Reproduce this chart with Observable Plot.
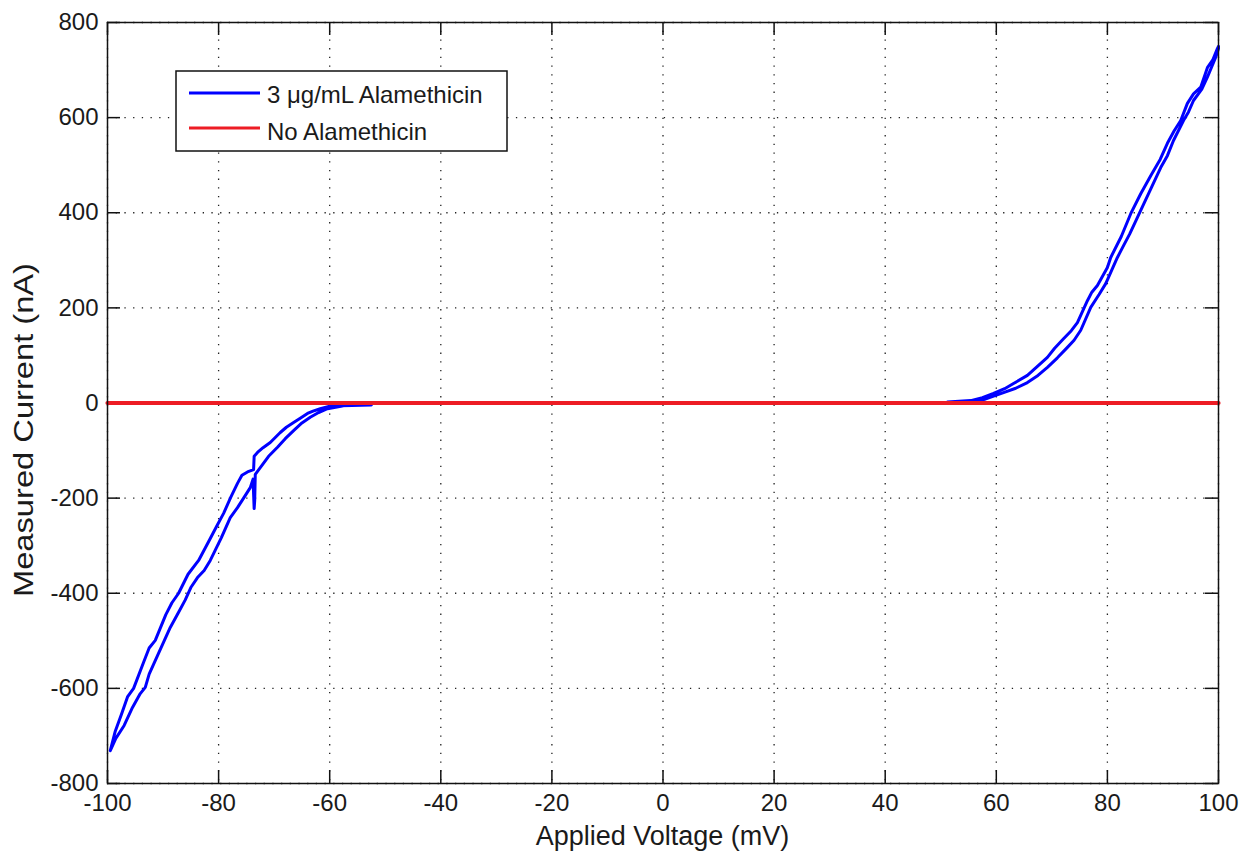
<!DOCTYPE html>
<html>
<head>
<meta charset="utf-8">
<script src="https://cdn.jsdelivr.net/npm/d3@7"></script>
<script src="https://cdn.jsdelivr.net/npm/@observablehq/plot@0.6"></script>
<style>
  html, body { margin: 0; padding: 0; background: #fff; }
  #chart { position: relative; width: 1242px; height: 852px; }
</style>
</head>
<body>
<div id="chart"></div>
<script>
// ---- data ----
const xTicks = [-100, -80, -60, -40, -20, 0, 20, 40, 60, 80, 100];
const yTicks = [-800, -600, -400, -200, 0, 200, 400, 600, 800];

const xLabel = "Applied Voltage (mV)";
const yLabel = "Measured Current (nA)";
const seriesNames = ["3 \u03bcg/mL Alamethicin", "No Alamethicin"];
const seriesColors = ["#0000ff", "#ed1c24"];

// negative branch, outer sweep (towards -100 mV)
const negOuterV = [-52.5, -56, -58, -60.0, -61.7, -63, -64.0, -65.3, -66.5, -67.8, -68.9, -70.7, -72, -73.0, -73.6, -73.7, -74.8, -75.8, -76.6, -77.8, -79.1, -80.3, -81.5, -83.6, -85.5, -87.2, -88.4, -89.5, -91.4, -92.5, -93.5, -95.3, -96.4, -97.5, -98.6, -99.5];
const negOuterI = [-4, -5, -6, -7, -12, -17, -22, -32, -41, -51, -62, -83, -94, -104, -112, -140, -145, -152, -169, -198, -232, -258, -285, -331, -360, -400, -420, -445, -499, -515, -545, -600, -618, -655, -690, -731];
// negative branch, inner sweep (back towards 0 mV)
const negInnerV = [-99.5, -98.5, -97, -95.5, -94.1, -93.2, -92.5, -91, -89.8, -88.7, -87.2, -86, -85, -83.8, -82.6, -81.5, -79.5, -77.9, -76.6, -75.5, -74.3, -73.8, -73.6, -73.5, -73.4, -72.5, -71, -69.4, -68, -66.5, -65, -63.5, -62, -60.4, -57, -53];
const negInnerI = [-731, -705, -678, -640, -611, -598, -570, -531, -500, -472, -440, -414, -388, -367, -352, -331, -283, -241, -220, -200, -178, -160, -222, -205, -150, -136, -112, -93, -75, -58, -42, -30, -20, -12, -5, -3];
// positive branch, rising sweep
const posUpV = [51, 55, 58, 61.3, 63.5, 65.6, 67.5, 69.2, 71, 72.8, 74, 75.2, 77.0, 78.5, 79.7, 80.8, 81.8, 83, 84, 86.0, 88, 89.6, 90.8, 91.9, 93.7, 94.6, 95.5, 97, 98.0, 99.5, 100];
const posUpI = [1, 2, 8, 22, 31, 43, 58, 75, 95, 117, 132, 153, 201, 228, 251, 280, 306, 333, 355, 405, 455, 495, 520, 552, 594, 612, 636, 660, 685, 727, 745];
// positive branch, falling sweep
const posDownV = [100, 99.8, 99, 98.0, 96.8, 95.5, 94.4, 93.2, 92, 90.8, 89.5, 87.8, 86, 84.2, 82.5, 80.6, 80.0, 78.2, 77.2, 76.4, 74.6, 73.5, 72.1, 70.5, 69.2, 67.5, 65.6, 63.1, 61.5, 59.5, 57.5, 55.4, 51.2];
const posDownI = [750, 745, 722, 705, 664, 650, 630, 594, 572, 546, 512, 478, 440, 398, 350, 306, 285, 247, 233, 215, 169, 152, 135, 115, 96, 78, 58, 41, 30, 20, 11, 5, 2];
// control (no alamethicin): flat at zero
const noAlaV = [-100, 100];
const noAlaI = [0, 0];

// ---- build tables ----
const toRows = (vs, is, branch) => vs.map((v, k) => ({v, i: is[k], branch}));
const alaRows = [
  ...toRows(negOuterV, negOuterI, "neg"),
  ...toRows(negInnerV, negInnerI, "neg"),
  ...toRows(posUpV, posUpI, "pos"),
  ...toRows(posDownV, posDownI, "pos")
];
const noAlaRows = toRows(noAlaV, noAlaI, "ctrl");

const W = 1242, H = 852;
const mL = 107, mR = 24, mT = 22, mB = 69;
const innerW = W - mL - mR, innerH = H - mT - mB;
const tickLen = 13;
const font = "'Liberation Sans', Arial, Helvetica, sans-serif";
const fmt = d => String(d);

const plot = Plot.plot({
  width: W, height: H,
  marginLeft: mL, marginRight: mR, marginTop: mT, marginBottom: mB,
  style: {fontSize: "24px", fontFamily: font, color: "#1a1a1a", background: "#fff"},
  x: {domain: [-100, 100], label: null},
  y: {domain: [-800, 800], label: null},
  marks: [
    // dotted grid
    Plot.ruleX(xTicks, {stroke: "#222", strokeWidth: 1.3, strokeDasharray: "1.3,7.4"}),
    Plot.ruleY(yTicks, {stroke: "#222", strokeWidth: 1.3, strokeDasharray: "1.3,7.4"}),
    // inward ticks on all four sides
    Plot.ruleX(xTicks, {insetTop: innerH - tickLen, stroke: "#111", strokeWidth: 1.5}),
    Plot.ruleX(xTicks, {insetBottom: innerH - tickLen, stroke: "#111", strokeWidth: 1.5}),
    Plot.ruleY(yTicks, {insetRight: innerW - tickLen, stroke: "#111", strokeWidth: 1.5}),
    Plot.ruleY(yTicks, {insetLeft: innerW - tickLen, stroke: "#111", strokeWidth: 1.5}),
    // data
    Plot.line(alaRows, {x: "v", y: "i", z: "branch", stroke: seriesColors[0], strokeWidth: 3}),
    Plot.line(noAlaRows, {x: "v", y: "i", stroke: seriesColors[1], strokeWidth: 4.2}),
    Plot.frame({stroke: "#111", strokeWidth: 1.5}),
    Plot.axisX(xTicks, {tickSize: 0, tickPadding: 10, fill: "#1a1a1a", tickFormat: fmt}),
    Plot.axisY(yTicks, {tickSize: 0, tickPadding: 9, fill: "#1a1a1a", tickFormat: fmt})
  ]
});

document.getElementById("chart").appendChild(plot);

// ---- axis titles and legend (annotations) ----
const svg = d3.select(plot);
const sx = plot.scale("x");

svg.append("text")
  .attr("x", sx.apply(0)).attr("y", 845)
  .attr("text-anchor", "middle")
  .attr("font-size", 27).attr("font-family", font).attr("fill", "#1a1a1a")
  .text(xLabel);

svg.append("text")
  .attr("transform", `translate(33,430) rotate(-90)`)
  .attr("text-anchor", "middle")
  .attr("font-size", 28).attr("font-family", font).attr("fill", "#1a1a1a")
  .attr("textLength", 334).attr("lengthAdjust", "spacingAndGlyphs")
  .text(yLabel);

const lg = svg.append("g");
lg.append("rect").attr("x", 176).attr("y", 71).attr("width", 331).attr("height", 80)
  .attr("fill", "#fff").attr("stroke", "#111").attr("stroke-width", 1.5);
const rowsY = [93, 128], baseY = [103, 140];
seriesNames.forEach((name, k) => {
  lg.append("line").attr("x1", 189).attr("x2", 260).attr("y1", rowsY[k]).attr("y2", rowsY[k])
    .attr("stroke", seriesColors[k]).attr("stroke-width", 3);
  lg.append("text").attr("x", 267).attr("y", baseY[k])
    .attr("text-anchor", "start")
    .attr("font-size", 24).attr("font-family", font).attr("fill", "#1a1a1a")
    .text(name);
});
</script>
</body>
</html>
